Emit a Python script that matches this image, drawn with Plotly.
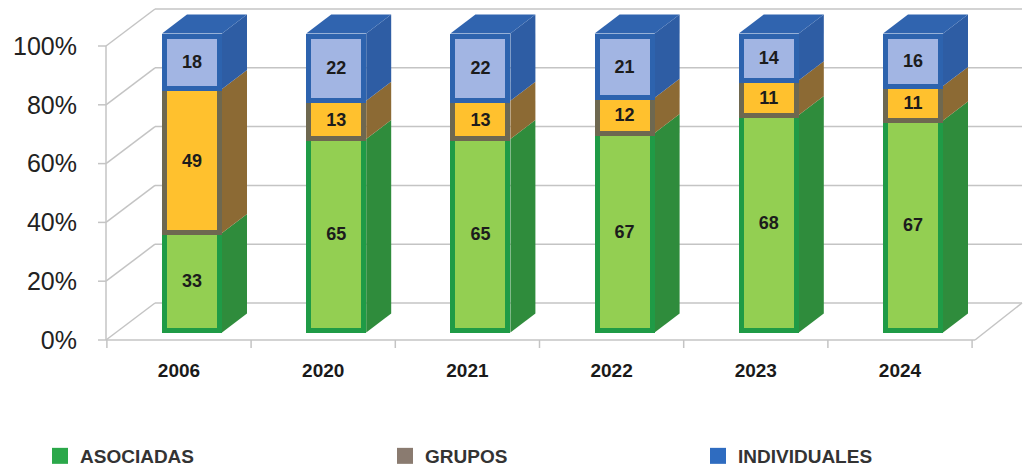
import numpy as np
import plotly.graph_objects as go

# ---------------- data ----------------
years = ["2006", "2020", "2021", "2022", "2023", "2024"]
asociadas = [33, 65, 65, 67, 68, 67]
grupos = [49, 13, 13, 12, 11, 11]
individuales = [18, 22, 22, 21, 14, 16]
y_ticks = [0, 20, 40, 60, 80, 100]
y_tick_text = [f"{t}%" for t in y_ticks]

series_names = ["ASOCIADAS", "GRUPOS", "INDIVIDUALES"]
series_values = [asociadas, grupos, individuales]

# ---------------- style ----------------
front_fill = ["#93CF52", "#FFC12E", "#A2B5E3"]
front_edge = ["#1F9B46", "#6E6850", "#2D63AE"]
side_fill = ["#2F8C3C", "#8C6A34", "#2E5DA4"]
legend_col = ["#2BA84A", "#8A7B70", "#2F6CC0"]
top_fill = "#3064AF"
grid_col = "#C4C4C4"

W, H = 1023, 469
M_L, M_R, M_T, M_B = 90, 0, 5, 117
PLOT_W = W - M_L - M_R
PLOT_H = H - M_T - M_B
CAT0_PX, CAT_STEP = 179.0, 144.2      # pixel centre of first category, spacing
Y0_PX, PX_PER = 330.0, 2.94           # pixel of 0 % at bar front, px per percent


def xu(px):
    return (px - CAT0_PX) / CAT_STEP


def yu(px_from_top):
    return (Y0_PX - px_from_top) / PX_PER


x_range = [xu(M_L), xu(W - M_R)]
y_range = [yu(M_T + PLOT_H), yu(M_T)]

FRONT_OFF = -10 / PX_PER      # front plane (axis labels) offset in %
BACK_OFF = 27 / PX_PER        # back wall offset in %
LINE_W = 5
BAR_W = 55 / CAT_STEP
BAR_SHIFT = 13 / CAT_STEP
DX = 25 / CAT_STEP
DY = 19 / PX_PER
EDGE_X = (LINE_W / 2) / CAT_STEP
EDGE_Y = (LINE_W / 2) / PX_PER

n = len(years)
idx = np.arange(n)
vals = np.array(series_values, dtype=float)
pct = vals / vals.sum(axis=0) * 100
cum = np.vstack([np.zeros(n), np.cumsum(pct, axis=0)])

fig = go.Figure()

for k, name in enumerate(series_names):
    fig.add_trace(go.Bar(
        x=idx, y=series_values[k], text=series_values[k],
        texttemplate="%{text}", textposition="inside", insidetextanchor="middle",
        textangle=0,
        textfont=dict(family="Liberation Sans", size=18, color="#1C1C1C", weight="bold"),
        marker=dict(color=front_fill[k], line=dict(color=front_edge[k], width=LINE_W)),
        width=BAR_W, offset=-BAR_W / 2 + BAR_SHIFT,
        name=name, showlegend=False, hoverinfo="skip",
    ))

# legend entries
for k, name in enumerate(series_names):
    fig.add_trace(go.Scatter(
        x=[None], y=[None], mode="markers", name=name,
        marker=dict(symbol="square", size=18, color=legend_col[k]),
        legend=["legend", "legend2", "legend3"][k], hoverinfo="skip",
    ))

# invisible trace for the front-plane percent axis
fig.add_trace(go.Scatter(x=[None], y=[None], yaxis="y2", showlegend=False, hoverinfo="skip"))

shapes = []


def seg(x0, y0, x1, y1, color=grid_col, width=1.5):
    shapes.append(dict(type="line", xref="x", yref="y", x0=x0, y0=y0, x1=x1, y1=y1,
                       line=dict(color=color, width=width), layer="below"))


def poly(pts, color):
    path = "M " + " L ".join(f"{a},{b}" for a, b in pts) + " Z"
    shapes.append(dict(type="path", xref="x", yref="y", path=path,
                       fillcolor=color, line=dict(width=0), layer="below"))


x_front_left, x_back_left = xu(106), xu(155)
x_front_right, x_back_right = xu(975), xu(1022)
tick_len = 8 / PX_PER

# walls and floor
for t in y_ticks:
    seg(x_back_left, t + BACK_OFF, x_back_right, t + BACK_OFF)
    seg(x_front_left, t + FRONT_OFF, x_back_left, t + BACK_OFF)
    seg(xu(98), t + FRONT_OFF, x_front_left, t + FRONT_OFF)
seg(x_front_left, y_ticks[0] + FRONT_OFF, x_front_left, y_ticks[-1] + FRONT_OFF)
seg(x_front_left, FRONT_OFF, x_front_right, FRONT_OFF)
seg(x_front_right, FRONT_OFF, x_back_right, BACK_OFF)
for b in range(n + 1):
    xb = b - 0.5
    seg(xb, FRONT_OFF, xb, FRONT_OFF - tick_len)

# 3D side and top faces of the columns
for i in range(n):
    xl = i - BAR_W / 2 + BAR_SHIFT - EDGE_X
    xr = i + BAR_W / 2 + BAR_SHIFT + EDGE_X
    for k in range(len(series_names)):
        y0 = cum[k, i] - (EDGE_Y if k == 0 else 0)
        y1 = cum[k + 1, i] + (EDGE_Y if k == len(series_names) - 1 else 0)
        poly([(xr, y0), (xr + DX, y0 + DY), (xr + DX, y1 + DY), (xr, y1)], side_fill[k])
    yt = cum[-1, i] + EDGE_Y
    poly([(xl, yt), (xl + DX, yt + DY), (xr + DX, yt + DY), (xr, yt)], top_fill)

legend_font = dict(family="Liberation Sans", size=19, color="#333333", weight="bold")


def leg(px, py=456):
    return dict(xref="container", yref="container", x=px / W, y=1 - py / H,
                xanchor="left", yanchor="middle",
                orientation="h", bgcolor="rgba(0,0,0,0)", font=legend_font,
                itemclick=False, itemdoubleclick=False)


fig.update_layout(
    width=W, height=H,
    margin=dict(l=M_L, r=M_R, t=M_T, b=M_B, autoexpand=False),
    paper_bgcolor="white", plot_bgcolor="white",
    barmode="stack", barnorm="percent",
    shapes=shapes,
    uniformtext=dict(minsize=15, mode="show"),
    xaxis=dict(range=x_range, tickmode="array", tickvals=list(idx), ticktext=years,
               showgrid=False, zeroline=False, showline=False, ticks="",
               tickfont=dict(family="Liberation Sans", size=19, color="#1A1A1A", weight="bold"),
               ticklabelstandoff=5, fixedrange=True, automargin=False),
    yaxis=dict(range=y_range, visible=False, fixedrange=True),
    yaxis2=dict(range=[y_range[0] - FRONT_OFF, y_range[1] - FRONT_OFF], overlaying="y",
                side="left", tickmode="array", tickvals=y_ticks, ticktext=y_tick_text,
                showgrid=False, zeroline=False, showline=False, ticks="",
                tickfont=dict(family="Liberation Sans", size=25, color="#222222"),
                ticklabelstandoff=12, fixedrange=True, automargin=False),
    legend=leg(40), legend2=leg(385), legend3=leg(698),
    showlegend=True,
)

fig.write_html(
    "out.html",
    config={"displayModeBar": False},
    post_script="document.body.style.margin='0';document.body.style.padding='0';",
)
